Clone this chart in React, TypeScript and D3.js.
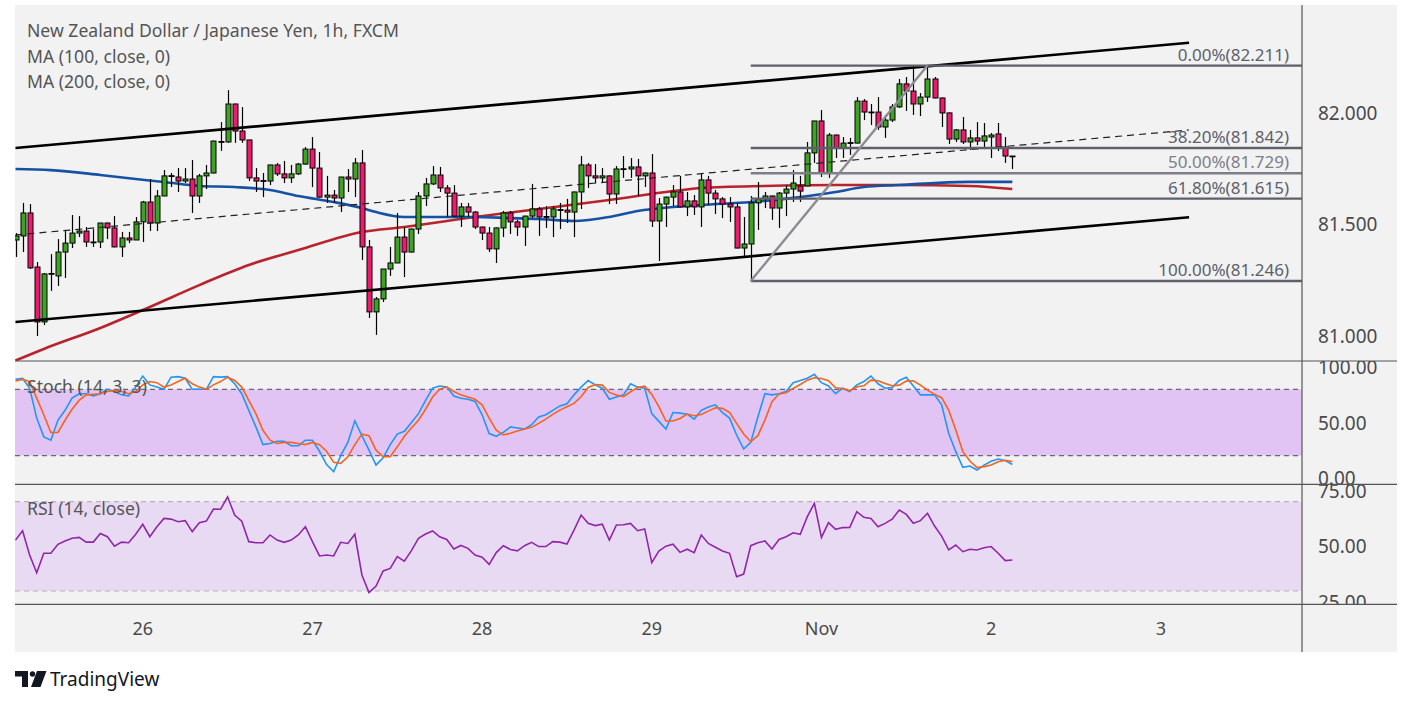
import * as d3 from 'd3'

// NZD/JPY 1h candles
const opens = [
  81.430, 81.448, 81.551, 81.309, 81.063, 81.278, 81.269, 81.376, 81.416, 81.461,
  81.470, 81.421, 81.421, 81.506, 81.484, 81.399, 81.439, 81.430, 81.511, 81.600,
  81.506, 81.627, 81.716, 81.712, 81.694, 81.703, 81.627, 81.717, 81.730, 81.869,
  81.869, 82.039, 81.918, 81.878, 81.708, 81.694, 81.694, 81.766, 81.726, 81.708,
  81.726, 81.770, 81.837, 81.752, 81.622, 81.631, 81.618, 81.712, 81.703, 81.775,
  81.399, 81.108, 81.166, 81.300, 81.327, 81.443, 81.376, 81.479, 81.627, 81.681,
  81.721, 81.663, 81.640, 81.537, 81.578, 81.555, 81.488, 81.461, 81.390, 81.484,
  81.551, 81.511, 81.488, 81.537, 81.569, 81.533, 81.533, 81.564, 81.564, 81.555,
  81.645, 81.766, 81.717, 81.708, 81.717, 81.636, 81.748, 81.748, 81.757, 81.717,
  81.730, 81.515, 81.591, 81.622, 81.645, 81.578, 81.605, 81.578, 81.699, 81.640,
  81.614, 81.591, 81.578, 81.394, 81.412, 81.596, 81.614, 81.627, 81.573, 81.640,
  81.658, 81.672, 81.672, 81.820, 81.963, 81.730, 81.900, 81.842, 81.864, 81.864,
  82.052, 82.003, 82.003, 81.936, 81.967, 82.026, 82.129, 82.097, 82.039, 82.070,
  82.151, 82.066, 81.999, 81.882, 81.923, 81.869, 81.887, 81.873, 81.891, 81.905,
  81.846, 81.806,
]
const highs = [
  81.461, 81.596, 81.591, 81.331, 81.282, 81.367, 81.434, 81.475, 81.542, 81.537,
  81.488, 81.479, 81.506, 81.508, 81.537, 81.466, 81.466, 81.533, 81.605, 81.703,
  81.654, 81.743, 81.730, 81.752, 81.752, 81.788, 81.726, 81.766, 81.875, 81.958,
  82.101, 82.040, 82.025, 81.878, 81.752, 81.730, 81.766, 81.775, 81.784, 81.766,
  81.775, 81.846, 81.891, 81.824, 81.717, 81.654, 81.712, 81.748, 81.797, 81.833,
  81.430, 81.175, 81.300, 81.399, 81.551, 81.488, 81.481, 81.645, 81.708, 81.761,
  81.757, 81.676, 81.676, 81.596, 81.596, 81.560, 81.490, 81.488, 81.486, 81.560,
  81.560, 81.520, 81.539, 81.681, 81.578, 81.582, 81.582, 81.596, 81.614, 81.647,
  81.806, 81.775, 81.770, 81.752, 81.719, 81.761, 81.806, 81.797, 81.793, 81.732,
  81.815, 81.618, 81.624, 81.676, 81.717, 81.645, 81.631, 81.730, 81.717, 81.654,
  81.622, 81.622, 81.596, 81.533, 81.627, 81.690, 81.645, 81.629, 81.645, 81.676,
  81.743, 81.717, 81.869, 81.963, 82.012, 81.909, 81.902, 81.891, 81.887, 82.070,
  82.061, 82.039, 82.070, 81.990, 82.039, 82.151, 82.160, 82.209, 82.088, 82.211,
  82.160, 82.068, 82.001, 81.927, 81.981, 81.923, 81.958, 81.954, 81.909, 81.954,
  81.891, 81.806,
]
const lows = [
  81.354, 81.376, 81.300, 81.000, 81.049, 81.202, 81.224, 81.260, 81.394, 81.443,
  81.399, 81.399, 81.394, 81.434, 81.397, 81.354, 81.416, 81.430, 81.421, 81.470,
  81.470, 81.667, 81.667, 81.645, 81.685, 81.551, 81.596, 81.658, 81.728, 81.829,
  81.865, 81.865, 81.865, 81.694, 81.645, 81.622, 81.676, 81.717, 81.685, 81.685,
  81.721, 81.766, 81.667, 81.620, 81.596, 81.596, 81.555, 81.645, 81.622, 81.340,
  81.081, 81.005, 81.152, 81.269, 81.327, 81.264, 81.374, 81.457, 81.582, 81.676,
  81.645, 81.533, 81.535, 81.488, 81.533, 81.479, 81.430, 81.376, 81.327, 81.443,
  81.457, 81.448, 81.403, 81.528, 81.448, 81.484, 81.443, 81.479, 81.506, 81.443,
  81.569, 81.663, 81.685, 81.685, 81.591, 81.591, 81.708, 81.708, 81.627, 81.667,
  81.488, 81.336, 81.488, 81.582, 81.576, 81.537, 81.542, 81.488, 81.587, 81.546,
  81.528, 81.511, 81.392, 81.358, 81.246, 81.475, 81.573, 81.520, 81.484, 81.537,
  81.600, 81.600, 81.672, 81.775, 81.712, 81.708, 81.797, 81.797, 81.811, 81.862,
  81.967, 81.945, 81.923, 81.887, 81.958, 82.021, 82.008, 81.990, 81.985, 82.048,
  82.064, 81.936, 81.860, 81.869, 81.860, 81.833, 81.855, 81.837, 81.797, 81.828,
  81.775, 81.748,
]
const closes = [
  81.448, 81.551, 81.305, 81.063, 81.278, 81.280, 81.376, 81.416, 81.461, 81.470,
  81.421, 81.419, 81.506, 81.484, 81.399, 81.439, 81.430, 81.511, 81.600, 81.506,
  81.627, 81.717, 81.718, 81.694, 81.703, 81.627, 81.717, 81.730, 81.873, 81.871,
  82.039, 81.918, 81.878, 81.708, 81.694, 81.696, 81.766, 81.726, 81.708, 81.726,
  81.770, 81.837, 81.752, 81.622, 81.631, 81.618, 81.712, 81.703, 81.775, 81.399,
  81.108, 81.166, 81.300, 81.327, 81.443, 81.376, 81.479, 81.627, 81.681, 81.721,
  81.663, 81.640, 81.537, 81.578, 81.555, 81.488, 81.461, 81.390, 81.484, 81.551,
  81.511, 81.488, 81.537, 81.569, 81.533, 81.535, 81.569, 81.566, 81.555, 81.645,
  81.766, 81.717, 81.708, 81.717, 81.636, 81.748, 81.749, 81.757, 81.717, 81.730,
  81.515, 81.591, 81.622, 81.645, 81.578, 81.605, 81.578, 81.699, 81.640, 81.614,
  81.591, 81.578, 81.394, 81.412, 81.596, 81.614, 81.627, 81.573, 81.640, 81.658,
  81.685, 81.649, 81.820, 81.963, 81.730, 81.900, 81.842, 81.864, 81.866, 82.052,
  82.003, 82.001, 81.936, 81.967, 82.026, 82.129, 82.097, 82.039, 82.070, 82.151,
  82.066, 81.999, 81.882, 81.923, 81.869, 81.887, 81.873, 81.896, 81.900, 81.846,
  81.806, 81.804,
]

// moving averages, sampled at candle indexes
const ma100Idx = [0, 5, 12, 17, 21, 26, 31, 36, 40, 45, 49, 51, 55, 60, 65, 70, 74, 79, 84, 88, 93, 97, 104, 111, 116, 120, 125, 130, 135, 141]
const ma100Val = [81.748, 81.743, 81.721, 81.703, 81.690, 81.672, 81.667, 81.654, 81.627, 81.600, 81.573, 81.555, 81.533, 81.533, 81.533, 81.528, 81.524, 81.515, 81.533, 81.560, 81.578, 81.587, 81.600, 81.622, 81.645, 81.667, 81.676, 81.685, 81.690, 81.690]
const ma200Idx = [0, 4, 12, 19, 26, 33, 40, 49, 55, 65, 74, 84, 93, 97, 106, 116, 125, 135, 141]
const ma200Val = [80.890, 80.942, 81.036, 81.130, 81.228, 81.318, 81.385, 81.466, 81.488, 81.533, 81.569, 81.609, 81.649, 81.663, 81.672, 81.676, 81.676, 81.672, 81.658]

// channel drawing
const channelIdx = [0, 166]
const channelUpper = [81.842, 82.313]
const channelLower = [81.063, 81.532]

// fib retracement
const fibFromIdx = 104
const fibToIdx = 129
const fibLevels = ['0.00', '38.20', '50.00', '61.80', '100.00']
const fibPrices = [82.211, 81.842, 81.729, 81.615, 81.246]

const stochK = [
  89, 90, 81, 54, 37, 34, 52, 61, 72, 76, 76, 74, 76, 80, 78, 75, 74, 82, 92, 84,
  82, 80, 91, 91.5, 90, 80, 80, 80, 91.5, 91, 91.5, 85, 76, 61, 46, 30, 31, 33, 33, 29,
  29, 34, 34, 24, 12, 5.5, 20, 32, 51.5, 38, 25, 11.5, 18, 30, 39.5, 42, 50, 58, 70, 81,
  83, 82, 74, 72, 71, 69, 57, 40, 37.5, 41, 46, 45, 44, 48, 55, 57, 61, 65, 67, 75,
  82, 88, 84, 81, 71, 73, 75, 85, 82, 81, 58, 51, 44, 59, 58.5, 57.5, 53, 61, 64, 66,
  59, 54, 38.7, 26, 32, 55, 76, 75, 76, 78, 86, 88, 90, 93.5, 86, 83, 76, 81, 78, 84,
  87, 92, 85, 81, 81.5, 88, 91, 83, 75, 75, 75, 66, 40, 23.6, 9.5, 10.7, 7, 11.5, 15, 17,
  15.5, 12,
]
const stochD = [
  87.5, 89, 87, 72, 57, 41, 41, 52, 62, 70, 75, 75.5, 76, 78, 79, 78, 76, 78, 84, 87,
  86, 82, 84, 87, 90, 85, 82, 80, 84, 87, 91, 88, 82, 70, 58, 43, 34, 31, 32, 32,
  31, 30, 32, 30, 24, 14, 13, 19, 30, 39.5, 38, 25, 19, 19, 28, 37.5, 45, 52, 62, 73,
  80, 82, 78, 75, 73, 71, 66, 54, 43, 38.7, 40.2, 42.3, 44.1, 45.6, 49.2, 53.1, 57.3, 61.2, 64.3, 67.3,
  73.3, 81.7, 84.4, 83.8, 77.2, 74.8, 73.3, 77.8, 81.7, 82.9, 75.4, 64.3, 51.3, 51.3, 53.7, 57.6, 56.1, 57.3, 60.3, 63.3,
  62.8, 59.1, 49.2, 39.6, 32.6, 38.1, 52.2, 68.8, 75.7, 76.9, 80.8, 84.4, 88.3, 90.4, 89.8, 87.7, 81.4, 80.8, 78.7, 82.3,
  83.2, 88.3, 87.7, 85.3, 83.2, 83.8, 87.4, 87.7, 83.8, 79.3, 75.4, 72.4, 61.2, 43.2, 23.6, 15.2, 9.2, 10.1, 11.6, 14.6,
  15.8, 14.6,
]
const rsi = [
  52.8, 57, 46.1, 38.2, 46.9, 46.9, 50.9, 52.4, 53.6, 54, 51.9, 51.9, 55.8, 54.3, 50.1, 51.9, 51.6, 55.4, 59.9, 54.3,
  58.8, 62.5, 62.2, 61, 61.5, 56.6, 60.6, 61.3, 66.7, 66.6, 72.2, 64, 61.3, 52.1, 51.6, 51.6, 55.1, 52.8, 51.8, 52.8,
  55.1, 58.8, 52.1, 45.7, 46.1, 45.7, 51.8, 51.3, 55.4, 37.2, 29.3, 32.2, 39, 40.1, 45.4, 43.4, 48.1, 53.6, 55.5, 56.9,
  54.3, 53.1, 48.8, 50.4, 49.1, 46.1, 45.1, 41.9, 47.2, 50.3, 48.6, 48, 50.3, 51.8, 49.9, 49.9, 52.1, 51.9, 51, 57.3,
  64, 60.3, 59.3, 59.9, 52.8, 59.6, 59.7, 60.3, 57, 57.8, 42.7, 47.9, 50.1, 51, 47.3, 48.7, 47.2, 55.1, 51.3, 49.6,
  47.9, 46.9, 36.4, 37.6, 50.3, 51.6, 52.4, 48.8, 53.1, 54.3, 56.1, 55.4, 63.3, 69.3, 54, 60.6, 57.6, 58.4, 58.5, 65.5,
  63, 62.5, 58.8, 60.3, 62.2, 66.3, 64.3, 60.3, 61.5, 64.8, 59.1, 54.6, 48.4, 50.6, 47.6, 48.7, 48.4, 49.4, 49.9, 46.9,
  43.6, 43.9,
]

const dayTicks = [18, 42, 66, 90, 114, 138, 162]
const dayLabels = ['26', '27', '28', '29', 'Nov', '2', '3']
const priceTicks = [82, 81.5, 81]
const stochTicks = [100, 50, 0]
const rsiTicks = [75, 50, 25]

const FONT = '"Noto Sans", "Open Sans", sans-serif'

export default function App() {
  const W = 1413
  const H = 705
  const left = 15
  const right = 1397
  const axisX = 1302
  const top = 5
  const mainBottom = 361
  const stochBottom = 484.3
  const rsiBottom = 604.3
  const bottom = 652

  const x = d3.scaleLinear().domain([0, 162]).range([15.5, 1160.8])
  const y = d3.scaleLinear().domain([81, 82]).range([336, 112.7])
  const ys = d3.scaleLinear().domain([0, 100]).range([477.8, 367.2])
  const yr = d3.scaleLinear().domain([30, 70]).range([591, 501.7])

  const maLine = d3.line<number>()
    .x((_, i) => x(ma100Idx[i]))
    .y(d => y(d))
    .curve(d3.curveMonotoneX)
  const ma2Line = d3.line<number>()
    .x((_, i) => x(ma200Idx[i]))
    .y(d => y(d))
    .curve(d3.curveMonotoneX)
  const stochLine = d3.line<number>().x((_, i) => x(i)).y(d => ys(d))
  const rsiLine = d3.line<number>().x((_, i) => x(i)).y(d => yr(d))

  const channelMid = channelUpper.map((u, i) => (u + channelLower[i]) / 2)
  const green = '#3da421'
  const red = '#f01a6c'
  const legendSize = 17.6

  return (
    <svg width={W} height={H} style={{ position: 'absolute', left: 0, top: 0, background: '#fff' }} fontFamily={FONT}>
      <defs>
        <clipPath id="mainClip"><rect x={left} y={top} width={axisX - left} height={mainBottom - top} /></clipPath>
        <clipPath id="stochClip"><rect x={left} y={mainBottom} width={right - left} height={stochBottom - mainBottom} /></clipPath>
        <clipPath id="rsiClip"><rect x={left} y={stochBottom} width={right - left} height={rsiBottom - stochBottom} /></clipPath>
      </defs>
      <rect x={left} y={top} width={right - left} height={bottom - top} fill="#f2f2f2" />

      {/* main pane */}
      <g clipPath="url(#mainClip)">
        <path d={ma2Line(ma200Val) || ''} fill="none" stroke="#b8242b" strokeWidth={2.6} />
        <path d={maLine(ma100Val) || ''} fill="none" stroke="#1552a3" strokeWidth={2.6} />
        {closes.map((c, i) => {
          const o = opens[i]
          const cx = Math.round(x(i)) + 0.5
          const yt = y(Math.max(o, c))
          const yb = y(Math.min(o, c))
          return (
            <g key={i}>
              <line x1={cx} x2={cx} y1={y(highs[i])} y2={y(lows[i])} stroke="#000" strokeWidth={1.2} />
              <rect x={cx - 2.5} y={yt} width={5} height={Math.max(yb - yt, 0.8)}
                fill={c >= o ? green : red} stroke="#000" strokeWidth={1} />
            </g>
          )
        })}
        <line x1={x(channelIdx[0])} x2={x(channelIdx[1])} y1={y(channelUpper[0])} y2={y(channelUpper[1])} stroke="#000" strokeWidth={2.6} />
        <line x1={x(channelIdx[0])} x2={x(channelIdx[1])} y1={y(channelLower[0])} y2={y(channelLower[1])} stroke="#000" strokeWidth={2.6} />
        <line x1={x(channelIdx[0])} x2={x(channelIdx[1])} y1={y(channelMid[0])} y2={y(channelMid[1])} stroke="#222" strokeWidth={1.2} strokeDasharray="7 5" />
        {fibPrices.map((p, i) => (
          <g key={i}>
            <line x1={x(fibFromIdx)} x2={axisX} y1={y(p)} y2={y(p)} stroke={i === 2 ? '#7c7f8a' : '#5d606b'} strokeWidth={2.4} />
            <text x={1289} y={y(p) - 5} textAnchor="end" fontSize={17} fill={i === 2 ? '#7c7f8a' : '#5d606b'}>
              {`${fibLevels[i]}%(${p.toFixed(3)})`}
            </text>
          </g>
        ))}
        <line x1={x(fibFromIdx)} x2={x(fibToIdx)} y1={y(fibPrices[4])} y2={y(fibPrices[0])} stroke="#8b8b94" strokeWidth={2.4} />
      </g>

      {/* stoch pane */}
      <g clipPath="url(#stochClip)">
        <rect x={left} y={ys(80)} width={axisX - left} height={ys(20) - ys(80)} fill="#e1c4f4" />
        <line x1={left} x2={axisX} y1={ys(80)} y2={ys(80)} stroke="#6b6776" strokeWidth={1.2} strokeDasharray="5 4" />
        <line x1={left} x2={axisX} y1={ys(20)} y2={ys(20)} stroke="#6b6776" strokeWidth={1.2} strokeDasharray="5 4" />
        <path d={stochLine(stochK) || ''} fill="none" stroke="#2196f3" strokeWidth={1.6} />
        <path d={stochLine(stochD) || ''} fill="none" stroke="#f6631f" strokeWidth={1.6} />
        <text x={27} y={385.5} dominantBaseline="central" fontSize={legendSize} fill="#555">Stoch (14, 3, 3)</text>
        {stochTicks.map(t => (
          <text key={t} x={1318} y={ys(t)} dominantBaseline="central" fontSize={19} fill="#4a4a4a">{t.toFixed(2)}</text>
        ))}
      </g>

      {/* rsi pane */}
      <g clipPath="url(#rsiClip)">
        <rect x={left} y={yr(70)} width={axisX - left} height={yr(30) - yr(70)} fill="#e9daf3" />
        <line x1={left} x2={axisX} y1={yr(70)} y2={yr(70)} stroke="#b7b0bf" strokeWidth={1.2} strokeDasharray="5 4" />
        <line x1={left} x2={axisX} y1={yr(30)} y2={yr(30)} stroke="#b7b0bf" strokeWidth={1.2} strokeDasharray="5 4" />
        <path d={rsiLine(rsi) || ''} fill="none" stroke="#9027a8" strokeWidth={1.6} />
        <text x={27} y={507.5} dominantBaseline="central" fontSize={legendSize} fill="#555">RSI (14, close)</text>
        {rsiTicks.map(t => (
          <text key={t} x={1318} y={yr(t)} dominantBaseline="central" fontSize={19} fill="#4a4a4a">{t.toFixed(2)}</text>
        ))}
      </g>

      {/* price axis */}
      {priceTicks.map(t => (
        <text key={t} x={1318} y={y(t)} dominantBaseline="central" fontSize={19} fill="#4a4a4a">{t.toFixed(3)}</text>
      ))}

      {/* separators */}
      <line x1={axisX} x2={axisX} y1={top} y2={bottom} stroke="#555" strokeWidth={1.2} />
      {[mainBottom, stochBottom, rsiBottom].map(s => (
        <line key={s} x1={left} x2={right} y1={s} y2={s} stroke="#555" strokeWidth={1.2} />
      ))}

      {/* time axis */}
      {dayTicks.map((d, i) => (
        <text key={d} x={x(d)} y={628} textAnchor="middle" dominantBaseline="central" fontSize={18} fill="#4a4a4a">{dayLabels[i]}</text>
      ))}

      {/* legend */}
      <text x={27} y={30} dominantBaseline="central" fontSize={legendSize} fill="#555">New Zealand Dollar / Japanese Yen, 1h, FXCM</text>
      <text x={27} y={55.5} dominantBaseline="central" fontSize={legendSize} fill="#555">MA (100, close, 0)</text>
      <text x={27} y={81} dominantBaseline="central" fontSize={legendSize} fill="#555">MA (200, close, 0)</text>

      {/* logo */}
      <g fill="#131722">
        <path d="M15 671 H28 V687 H22 V676.5 H15 Z" />
        <circle cx={32.5} cy={674} r={2.7} />
        <path d="M37 671 H46.5 L40.5 687 H31 Z" />
      </g>
      <text x={50} y={679} dominantBaseline="central" fontSize={19} fill="#131722">TradingView</text>
    </svg>
  )
}
